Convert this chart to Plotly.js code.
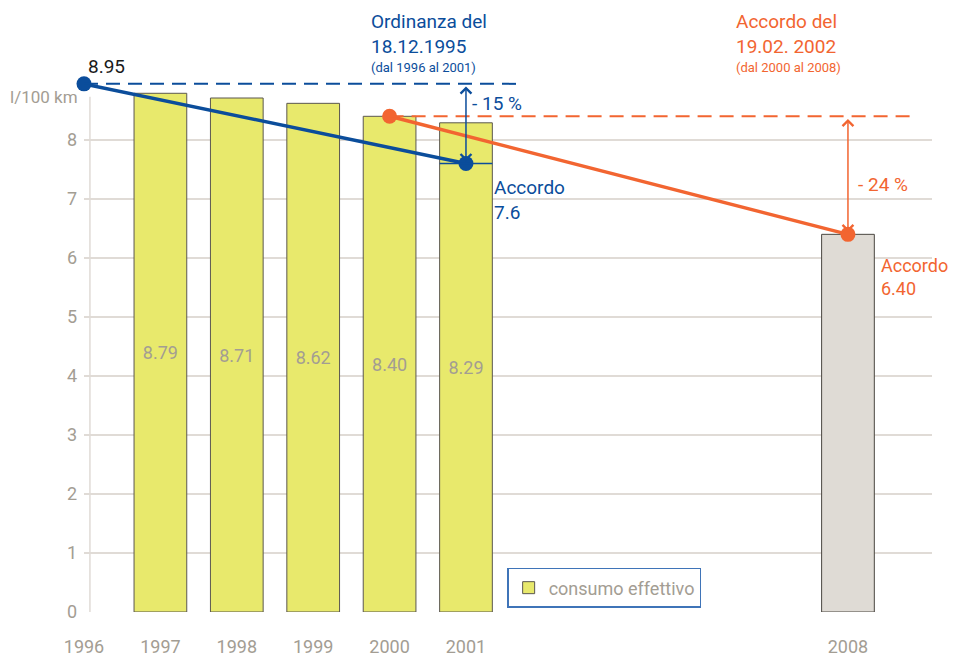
<!DOCTYPE html>
<html><head><meta charset="utf-8">
<script src="https://cdn.plot.ly/plotly-3.0.1.min.js"></script>
<style>html,body{margin:0;padding:0;background:#fff}#chart{width:953px;height:657px}</style>
</head><body><div id="chart"></div>
<script>
// ---- data ----
const categories = ['1996','1997','1998','1999','2000','2001','_g1','_g2','_g3','_g4','2008'];
const tickYears = ['1996','1997','1998','1999','2000','2001','2008'];
const barYears = ['1997','1998','1999','2000','2001'];
const consumo = [8.79, 8.71, 8.62, 8.40, 8.29];
const targetYears = ['2008'];
const targetValues = [6.40];
const ordinanzaYears = ['1996','2001'];
const ordinanzaValues = [8.95, 7.6];
const accordoYears = ['2000','2008'];
const accordoValues = [8.40, 6.40];
const yTicks = [0,1,2,3,4,5,6,7,8];

// ---- styles ----
const BLUE = '#0b4d9b', ORANGE = '#f26531', GRAY = '#a39d93', GRID = '#e0dbd6';
const FONT = 'Roboto, "Open Sans", sans-serif';
const idx = c => categories.indexOf(c);

const traces = [
  {type:'bar', name:'consumo effettivo', x:barYears, y:consumo, width:0.69,
   marker:{color:'#e8e96c', line:{color:'#5b5750', width:1}},
   text:consumo.map(v=>v.toFixed(2)), textposition:'inside', insidetextanchor:'middle',
   textfont:{color:GRAY, size:18, family:FONT}, hoverinfo:'skip'},
  {type:'bar', name:'2008', x:targetYears, y:targetValues, width:0.69, showlegend:false,
   marker:{color:'#dfdbd5', line:{color:'#4a4640', width:1}}, hoverinfo:'skip'},
  {type:'scatter', mode:'lines+markers', x:ordinanzaYears, y:ordinanzaValues, showlegend:false,
   line:{color:BLUE, width:3.5}, marker:{color:BLUE, size:15}, cliponaxis:false, hoverinfo:'skip'},
  {type:'scatter', mode:'lines+markers', x:accordoYears, y:accordoValues, showlegend:false,
   line:{color:ORANGE, width:3.5}, marker:{color:ORANGE, size:15}, cliponaxis:false, hoverinfo:'skip'}
];

const shapes = [
  {type:'line', xref:'paper', x0:0.007, x1:0.007, yref:'y', y0:0, y1:8.73, line:{color:GRID, width:1.5}, layer:'below'},
  {type:'line', xref:'x', x0:idx(ordinanzaYears[0]), x1:5.67, yref:'y', y0:ordinanzaValues[0], y1:ordinanzaValues[0],
   line:{color:BLUE, width:2, dash:'14px,8px'}},
  {type:'line', xref:'x', x0:idx(accordoYears[0]), x1:10.84, yref:'y', y0:accordoValues[0], y1:accordoValues[0],
   line:{color:ORANGE, width:2, dash:'14px,8px'}},
  {type:'line', xref:'x', x0:idx('2001')-0.345, x1:idx('2001')+0.345, yref:'y', y0:ordinanzaValues[1], y1:ordinanzaValues[1],
   line:{color:BLUE, width:1.5}}
];

const ann = (o) => Object.assign({showarrow:false, xanchor:'left', yanchor:'middle', align:'left'}, o);
const annotations = [
  // arrows
  {xref:'x', yref:'y', axref:'x', ayref:'y', x:idx('2001'), y:ordinanzaValues[1]+0.04, ax:idx('2001'), ay:ordinanzaValues[0]-0.02,
   showarrow:true, arrowhead:4, startarrowhead:4, arrowside:'end+start', arrowsize:1.4, arrowwidth:1.5, arrowcolor:BLUE, text:''},
  {xref:'x', yref:'y', axref:'x', ayref:'y', x:idx('2008'), y:accordoValues[1]+0.04, ax:idx('2008'), ay:accordoValues[0]-0.02,
   showarrow:true, arrowhead:4, startarrowhead:4, arrowside:'end+start', arrowsize:1.4, arrowwidth:1.5, arrowcolor:ORANGE, text:''},
  // labels
  ann({xref:'x', yref:'y', x:idx('1996'), y:ordinanzaValues[0], yanchor:'bottom', yshift:4, xshift:2,
       text:ordinanzaValues[0].toFixed(2), font:{family:FONT, size:19, color:'#1a1a1a'}}),
  ann({xref:'x', yref:'paper', x:3.73, y:1.077, text:'Ordinanza del<br>18.12.1995',
       font:{family:FONT, size:19, color:BLUE}}),
  ann({xref:'x', yref:'paper', x:3.73, y:1.0145, text:'(dal 1996 al 2001)',
       font:{family:FONT, size:13, color:BLUE}}),
  ann({xref:'x', yref:'paper', x:8.51, y:1.077, text:'Accordo del<br>19.02. 2002',
       font:{family:FONT, size:19, color:ORANGE}}),
  ann({xref:'x', yref:'paper', x:8.51, y:1.0145, text:'(dal 2000 al 2008)',
       font:{family:FONT, size:13, color:ORANGE}}),
  ann({xref:'x', yref:'y', x:idx('2001'), xshift:4, y:8.61, text:'- 15 %', font:{family:FONT, size:19, color:BLUE}}),
  ann({xref:'x', yref:'y', x:idx('2001'), xshift:26, y:6.99, text:'Accordo<br>'+ordinanzaValues[1], font:{family:FONT, size:19, color:BLUE}}),
  ann({xref:'x', yref:'y', x:idx('2008'), xshift:8, y:7.25, text:'- 24 %', font:{family:FONT, size:19, color:ORANGE}}),
  ann({xref:'x', yref:'y', x:idx('2008'), xshift:31, y:5.67, text:'Accordo<br>'+accordoValues[1].toFixed(2), font:{family:FONT, size:18, color:ORANGE}}),
  ann({xref:'paper', yref:'y', x:0, xshift:-4, xanchor:'right', y:8.73, text:'l/100 km', font:{family:FONT, size:17, color:GRAY}})
];

const layout = {
  width:953, height:657, margin:{l:84, r:21, t:75, b:45},
  paper_bgcolor:'#fff', plot_bgcolor:'#fff', font:{family:FONT},
  showlegend:true,
  legend:{x:0.499, y:0.082, xanchor:'left', yanchor:'top', bgcolor:'#fff', bordercolor:'#3f74b8', borderwidth:1.5,
          font:{family:FONT, size:18, color:GRAY}, itemwidth:30},
  xaxis:{type:'category', categoryorder:'array', categoryarray:categories, range:[0, 11.1],
         tickmode:'array', tickvals:tickYears, ticktext:tickYears, showgrid:false, zeroline:false, showline:false,
         ticks:'', ticklabelstandoff:22, tickfont:{family:FONT, size:18, color:GRAY}, fixedrange:true},
  yaxis:{range:[0, 9.1], tickmode:'array', tickvals:yTicks, ticktext:yTicks.map(String),
         showgrid:true, gridcolor:GRID, gridwidth:1.5, zeroline:false, showline:false, ticks:'',
         ticklabelstandoff:6, tickfont:{family:FONT, size:18, color:GRAY}, fixedrange:true},
  shapes:shapes, annotations:annotations, bargap:0.3
};
Plotly.newPlot('chart', traces, layout, {displayModeBar:false, staticPlot:true});
</script></body></html>
